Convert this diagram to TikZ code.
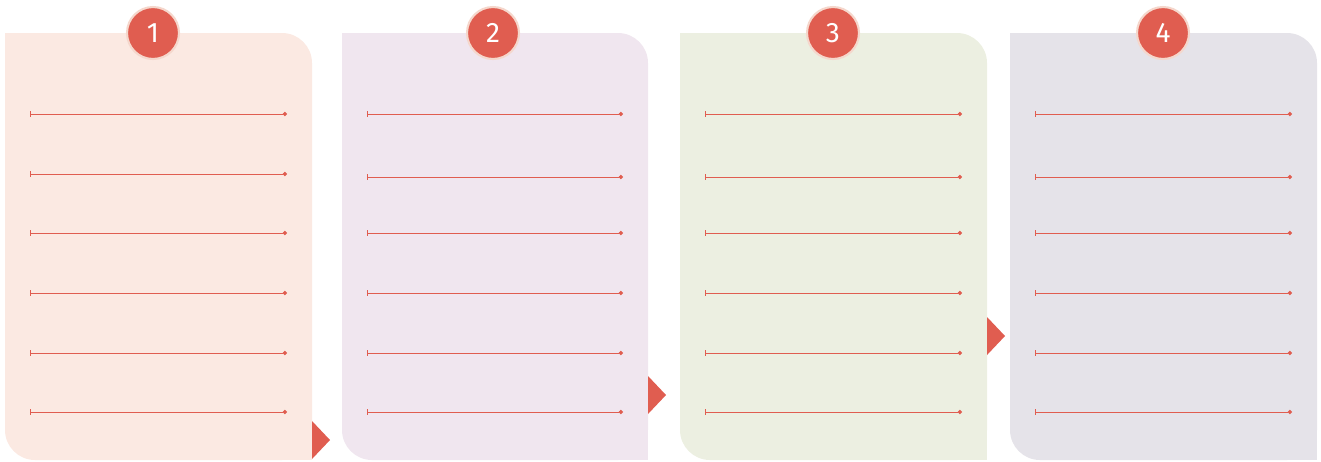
\documentclass[tikz,border=0pt]{standalone}
\usepackage{fontspec}
\setsansfont{Fira Sans}
\usetikzlibrary{arrows.meta,calc}

\definecolor{stepred}{HTML}{E05D50}
\definecolor{ringcol}{HTML}{F5D7CC}
\definecolor{pone}{HTML}{FBE9E2}
\definecolor{ptwo}{HTML}{F0E6EF}
\definecolor{pthree}{HTML}{ECEFE1}
\definecolor{pfour}{HTML}{E5E3E9}

\tikzset{
    badge/.style={circle, fill=stepred, draw=ringcol, line width=1.2pt,
        minimum size=1.04cm, inner sep=0pt, text=white,
        font=\sffamily\fontsize{16}{16}\selectfont},
    rule/.style={stepred, line width=0.5pt, {Bar[width=3pt]}-{Circle[length=2.4pt]}}
}

\begin{document}
\begin{tikzpicture}[x=0.02cm,y=-0.02cm]
        \useasboundingbox (0,0) rectangle (1321,461);

        % Draw panels
        \foreach \n/\xl/\xr/\col/\ys in {
            1/5/312/pone/174,
            2/342/648/ptwo/177,
            3/680/987/pthree/177,
            4/1010/1317/pfour/177
        } {
            \fill[\col, rounded corners=0.6cm] (\xl,33) rectangle (\xr,460);
            \fill[\col] (\xl,33) rectangle (\xl+40,80);
            \fill[\col] (\xr-40,420) rectangle (\xr,460);

            % lines
            \foreach \y [count=\k] in {114,\ys,233,293,353,412} {
                \coordinate (l\n-\k) at (\xl+25,\y);
                \coordinate (r\n-\k) at (\xr-25,\y);
                \draw[rule] (l\n-\k) -- (r\n-\k);
            }
        }

        % Draw pointers
        \foreach \x/\y in {312/440, 648/395, 987/336} {
            \fill[stepred] (\x,\y-19) -- (\x+18,\y) -- (\x,\y+19) -- cycle;
        }

        % Number badges
        \node[badge] (b1) at (153,33) {1};
        \node[badge] (b2) at (493,33) {2};
        \node[badge] (b3) at (833,33) {3};
        \node[badge] (b4) at (1163,33) {4};
    \end{tikzpicture}
\end{document}
